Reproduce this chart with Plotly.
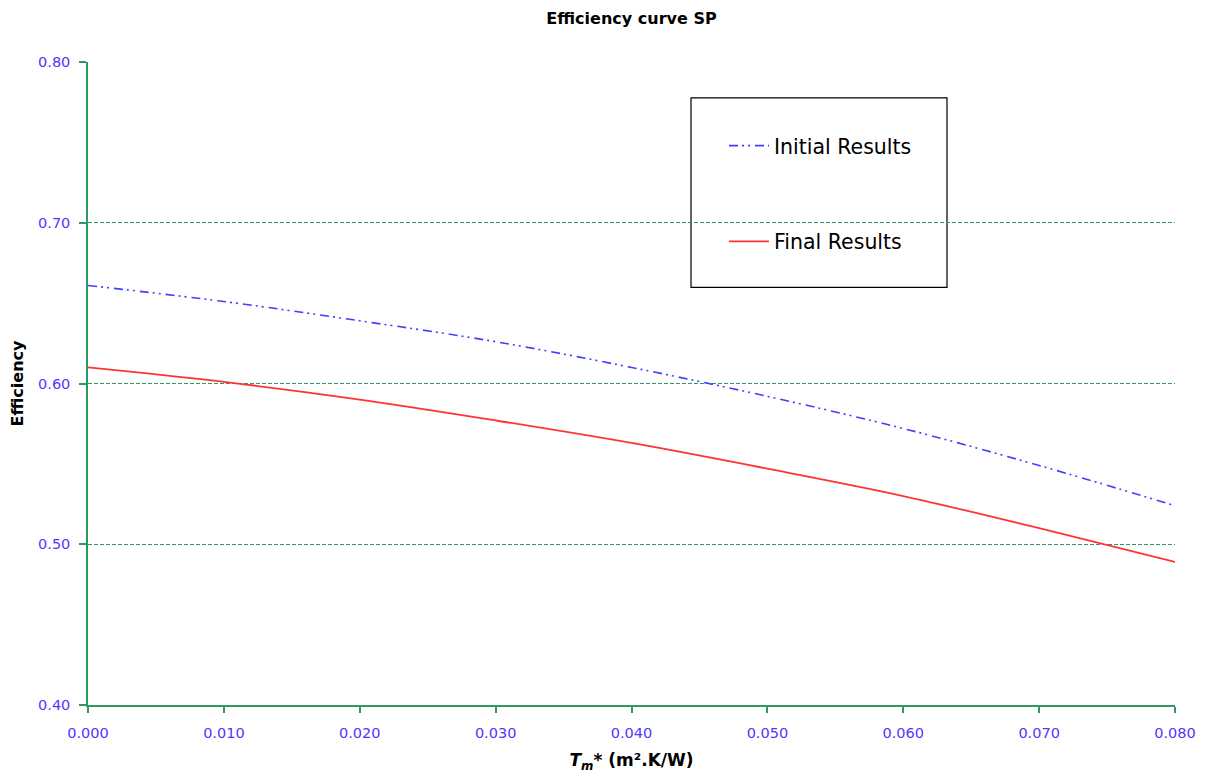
import plotly.graph_objects as go

x_vals = [0.000, 0.010, 0.020, 0.030, 0.040, 0.050, 0.060, 0.070, 0.080]
initial_results = [0.661, 0.651, 0.639, 0.626, 0.610, 0.592, 0.572, 0.549, 0.524]
final_results = [0.610, 0.601, 0.590, 0.577, 0.563, 0.547, 0.530, 0.510, 0.489]

FONT = "DejaVu Sans"
GREEN = "#2e9960"
TICK = "#5533ff"

fig = go.Figure()
fig.add_trace(go.Scatter(x=x_vals, y=initial_results, mode="lines", name="Initial Results",
                         line=dict(color="#4040ff", width=1.6, dash="9px,4px,2px,4px,2px,5px", shape="spline"),
                         legendgroup="a"))
fig.add_trace(go.Scatter(x=x_vals, y=final_results, mode="lines", name="Final Results",
                         line=dict(color="#ff3333", width=1.8, shape="spline"),
                         legendgroup="b"))

fig.update_layout(
    width=1211, height=779,
    margin=dict(l=88, r=36, t=62, b=72),
    paper_bgcolor="white", plot_bgcolor="white",
    font=dict(family=FONT, color="black"),
    title=dict(text="<b>Efficiency curve SP</b>", x=0.5, xref="paper", y=0.977, yanchor="middle",
               font=dict(size=16, family=FONT, color="black")),
    xaxis=dict(range=[0, 0.08], dtick=0.01, tickformat=".3f", showgrid=False, zeroline=False,
               showline=True, linecolor=GREEN, linewidth=1.5, ticks="outside", tickcolor=GREEN,
               ticklen=6, tickwidth=1.5, ticklabelstandoff=8,
               tickfont=dict(size=14.5, color=TICK, family=FONT),
               title=dict(text="<b><i>T<sub>m</sub></i>* (m².K/W)</b>", font=dict(size=17, family=FONT), standoff=14)),
    yaxis=dict(range=[0.40, 0.80], dtick=0.1, tickformat=".2f", showgrid=True, gridcolor=GREEN,
               griddash="4px,2px", gridwidth=1, zeroline=False,
               showline=True, linecolor=GREEN, linewidth=1.5, ticks="outside", tickcolor=GREEN,
               ticklen=7, tickwidth=1.5, ticklabelstandoff=6,
               tickfont=dict(size=14.5, color=TICK, family=FONT),
               title=dict(text="<b>Efficiency</b>", font=dict(size=16, family=FONT), standoff=10)),
    legend=dict(x=(724 - 88) / 1087, y=(707 - 126) / 645, xanchor="left", yanchor="top",
                bgcolor="rgba(0,0,0,0)", borderwidth=0, traceorder="grouped", tracegroupgap=66,
                itemwidth=40,
                font=dict(size=20.5, family=FONT, color="black")),
    showlegend=True,
)
fig.add_shape(type="rect", xref="paper", yref="paper",
              x0=(691 - 88) / 1087, x1=(947 - 88) / 1087,
              y0=(707 - 288) / 645, y1=(707 - 98) / 645,
              line=dict(color="black", width=1.2), fillcolor="white", layer="below")

fig.write_html("out.html")
